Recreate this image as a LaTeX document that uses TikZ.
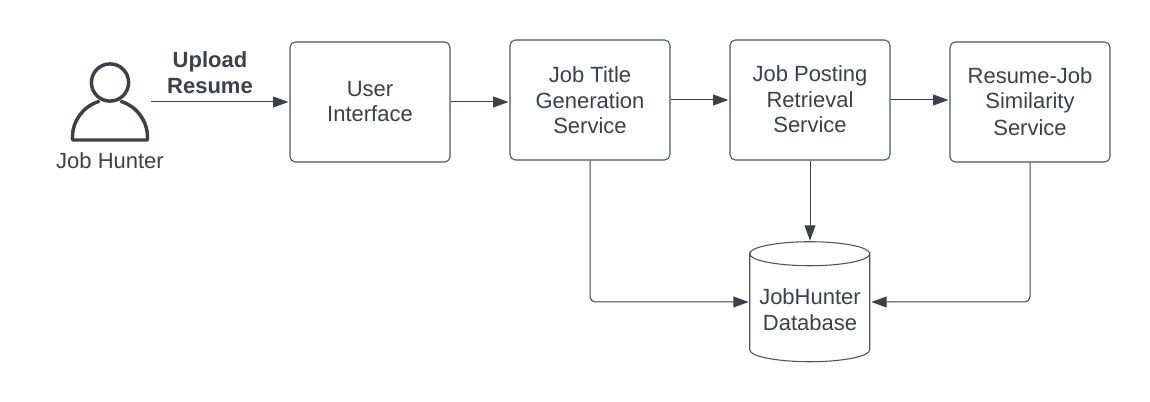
\documentclass[tikz,border=0pt]{standalone}
\usepackage{fontspec}
\setmainfont{Liberation Sans}
\usetikzlibrary{arrows.meta}
\definecolor{ink}{HTML}{3A414A}
\definecolor{edge}{HTML}{4C535B}
\tikzset{
  txt/.style={text=ink,align=center,inner sep=0pt,font=\fontsize{16.5}{19}\selectfont},
  widetxt/.style={font=\fontsize{16.5}{19.6}\selectfont},
  svcbox/.style={txt,draw=edge,line width=0.8pt,rounded corners=4pt,minimum width=120pt,minimum height=90pt},
  dbbox/.style={txt,widetxt,minimum width=90pt,minimum height=90pt},
  shape line/.style={draw=edge,line width=0.8pt},
  conn/.style={draw=ink,line width=0.75pt,rounded corners=4pt,-{Triangle[length=11.5pt,width=8.2pt]},shorten >=0.8pt},
  person/.style={draw=ink,line width=2.6pt,line join=round,line cap=round}
}
\begin{document}
\begin{tikzpicture}[x=0.75pt,y=-0.75pt]
\useasboundingbox (0,0) rectangle (1150,402);
% actor
\path[person] (110,82.5) circle (18.6);
\path[person] (98.7,101.5) arc[start angle=-107.5,end angle=-180,radius=37.5] -- (72.5,140) -- (147.5,140) -- (147.5,137.3) arc[start angle=0,end angle=-72.5,radius=37.5];
\coordinate (actorout) at (151,102);
\node[txt] (hunter) at (110,161) {Job Hunter};
% boxes
\node[svcbox] (ui) at (370,102) {\raisebox{1pt}{User}\\\raisebox{1.4pt}{Interface}};
\node[svcbox] (title) at (590,100) {\raisebox{0.5pt}{Job Title}\\Generation\\Service};
\node[svcbox] (post) at (810,100) {\raisebox{1.2pt}{Job Posting}\\\raisebox{1.2pt}{Retrieval}\\\raisebox{1pt}{Service}};
\node[svcbox] (sim) at (1030,102) {\raisebox{1pt}{Resume-Job}\\\raisebox{1.6pt}{Similarity}\\\raisebox{0.6pt}{Service}};
% database
\node[dbbox] (db) at (810,302) {\\[4pt]JobHunter\\Database};
\path[shape line] (db.north west) ++(0,12) arc[x radius=60,y radius=12,start angle=180,end angle=0] -- ++(0,96) arc[x radius=60,y radius=12,start angle=0,end angle=180] -- cycle;
\path[shape line] (db.north west) ++(0,12) arc[x radius=60,y radius=12,start angle=180,end angle=360];
% connectors
\draw[conn] (actorout) -- (ui.west);
\node[txt,font=\fontsize{16.5}{19.6}\selectfont\bfseries] (upload) at (210,72.5) {Upload\\Resume};
\draw[conn] (ui.east) -- (title.west |- ui.east);
\draw[conn] (title.east) -- (post.west);
\draw[conn] (post.east) -- (sim.west |- post.east);
\draw[conn] (post.south) -- (db.north);
\draw[conn] (title.south) |- (db.west);
\draw[conn] (sim.south) |- (db.east);
\end{tikzpicture}
\end{document}
